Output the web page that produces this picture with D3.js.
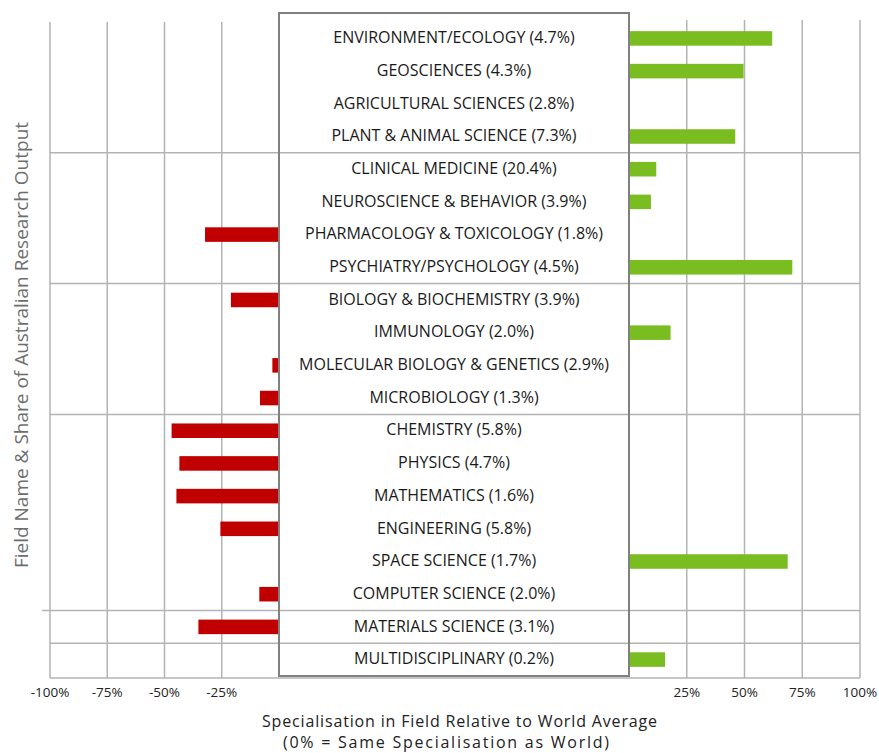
<!DOCTYPE html>
<html><head><meta charset="utf-8">
<script src="https://cdn.jsdelivr.net/npm/d3@7"></script>
<style>body{margin:0;background:#fff}svg{display:block}</style>
</head><body><svg id="c" width="879" height="753"></svg>
<script>
const categories = ["ENVIRONMENT/ECOLOGY","GEOSCIENCES","AGRICULTURAL SCIENCES","PLANT & ANIMAL SCIENCE","CLINICAL MEDICINE","NEUROSCIENCE & BEHAVIOR","PHARMACOLOGY & TOXICOLOGY","PSYCHIATRY/PSYCHOLOGY","BIOLOGY & BIOCHEMISTRY","IMMUNOLOGY","MOLECULAR BIOLOGY & GENETICS","MICROBIOLOGY","CHEMISTRY","PHYSICS","MATHEMATICS","ENGINEERING","SPACE SCIENCE","COMPUTER SCIENCE","MATERIALS SCIENCE","MULTIDISCIPLINARY"];
const shares = ["4.7%","4.3%","2.8%","7.3%","20.4%","3.9%","1.8%","4.5%","3.9%","2.0%","2.9%","1.3%","5.8%","4.7%","1.6%","5.8%","1.7%","2.0%","3.1%","0.2%"];
const specialisation = [62,49.6,0,46,11.8,9.5,-32.3,70.7,-21,18,-2.9,-8.3,-46.9,-43.5,-44.8,-25.6,68.7,-8.6,-35.2,15.6];
const groupBreaks = [4,8,12,18,19];
const leftTicks = [-100,-75,-50,-25];
const rightTicks = [25,50,75,100];

const svg = d3.select("#c");
const y = d3.scaleBand().domain(categories).range([22,676]).paddingInner(0.555).paddingOuter(0.28);
const yStep = d3.scaleLinear().domain([0,categories.length]).range([22,676]);
const xL = d3.scaleLinear().domain([-100,0]).range([50,279]);
const xR = d3.scaleLinear().domain([0,100]).range([629,860]);
const grid = "#b3b3b3";

// vertical grid lines
svg.selectAll("line.vl").data(leftTicks).join("line")
  .attr("x1",d=>xL(d)).attr("x2",d=>xL(d)).attr("y1",22).attr("y2",678)
  .attr("stroke",grid).attr("stroke-width",1.5);
svg.selectAll("line.vr").data(rightTicks).join("line")
  .attr("x1",d=>xR(d)).attr("x2",d=>xR(d)).attr("y1",20).attr("y2",678)
  .attr("stroke",grid).attr("stroke-width",1.5);
// horizontal group lines
svg.selectAll("line.h").data(groupBreaks).join("line")
  .attr("x1",d=>d===18?42:xL(-100)).attr("x2",xR(100))
  .attr("y1",d=>yStep(d)).attr("y2",d=>yStep(d))
  .attr("stroke",grid).attr("stroke-width",1.5);
// bottom axis line
svg.append("line").attr("x1",xL(-100)).attr("x2",xR(100)).attr("y1",678).attr("y2",678)
  .attr("stroke",grid).attr("stroke-width",1.5);

// bars
const rows = categories.map((c,i)=>({c,v:specialisation[i],s:shares[i]}));
svg.selectAll("rect.neg").data(rows.filter(d=>d.v<0)).join("rect")
  .attr("x",d=>xL(d.v)).attr("width",d=>xL(0)-xL(d.v))
  .attr("y",d=>y(d.c)).attr("height",y.bandwidth())
  .attr("fill","#c00000");
svg.selectAll("rect.pos").data(rows.filter(d=>d.v>0)).join("rect")
  .attr("x",xR(0)).attr("width",d=>xR(d.v)-xR(0))
  .attr("y",d=>y(d.c)).attr("height",y.bandwidth())
  .attr("fill","#7abd21");

// label box
svg.append("rect").attr("x",xL(0)).attr("y",13).attr("width",xR(0)-xL(0)).attr("height",663)
  .attr("fill","none").attr("stroke","#808080").attr("stroke-width",2);

// category labels
svg.selectAll("text.lab").data(rows).join("text")
  .attr("x",(xL(0)+xR(0))/2).attr("y",d=>y(d.c)+y.bandwidth()/2-1)
  .attr("dy","0.36em").attr("text-anchor","middle")
  .attr("font-family","Open Sans, sans-serif").attr("font-size",16).attr("fill","#1a1a1a")
  .text(d=>`${d.c} (${d.s})`);

// tick labels
const tickFmt = d=>d+"%";
svg.selectAll("text.tl").data(leftTicks).join("text")
  .attr("x",d=>xL(d)).attr("y",697).attr("text-anchor","middle")
  .attr("font-family","Open Sans, sans-serif").attr("font-size",13.5).attr("fill","#222")
  .text(tickFmt);
svg.selectAll("text.tr").data(rightTicks).join("text")
  .attr("x",d=>xR(d)).attr("y",697).attr("text-anchor","middle")
  .attr("font-family","Open Sans, sans-serif").attr("font-size",13.5).attr("fill","#222")
  .text(tickFmt);

// axis titles
svg.append("text").attr("x",459.5).attr("y",727).attr("text-anchor","middle")
  .attr("font-family","Open Sans, sans-serif").attr("font-size",16).attr("fill","#222")
  .attr("textLength",395).attr("lengthAdjust","spacing")
  .text("Specialisation in Field Relative to World Average");
svg.append("text").attr("x",446).attr("y",748).attr("text-anchor","middle")
  .attr("font-family","Open Sans, sans-serif").attr("font-size",16).attr("fill","#222")
  .attr("textLength",326).attr("lengthAdjust","spacing")
  .text("(0% = Same Specialisation as World)");
svg.append("text").attr("transform","translate(28,345) rotate(-90)").attr("text-anchor","middle")
  .attr("font-family","Open Sans, sans-serif").attr("font-size",19).attr("fill","#6e6e6e")
  .text("Field Name & Share of Australian Research Output");
</script></body></html>
